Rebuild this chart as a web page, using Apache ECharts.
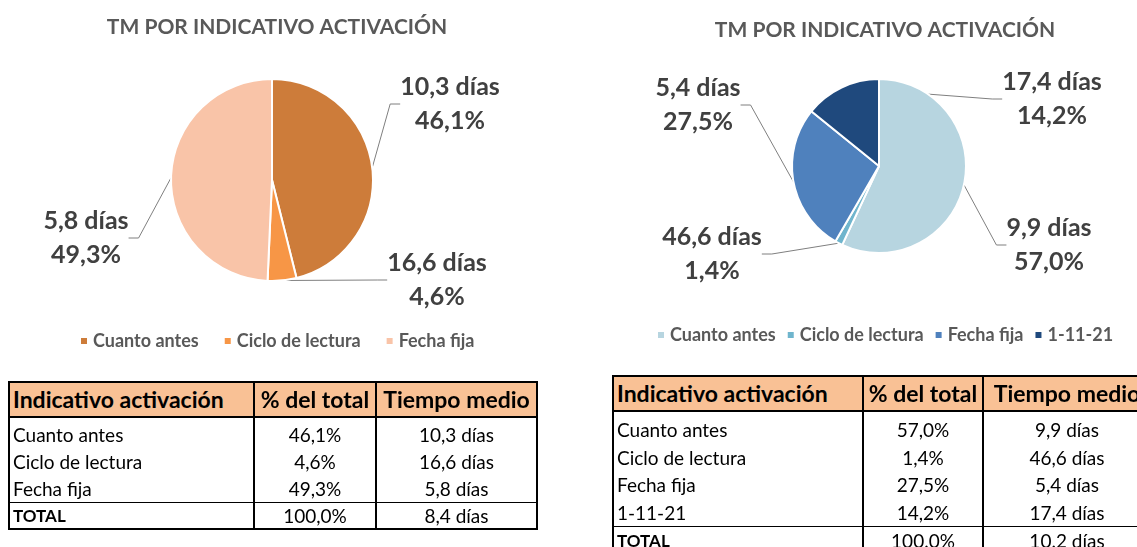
<!DOCTYPE html>
<html>
<head>
<meta charset="utf-8">
<script src="https://cdn.jsdelivr.net/npm/echarts@6/dist/echarts.min.js"></script>
<style>
  html, body { margin: 0; padding: 0; background: #fff; }
  #wrap { position: relative; width: 1137px; height: 547px; overflow: hidden; }
  #chart { position: absolute; left: 0; top: 0; width: 1137px; height: 547px; }
  table.tm { position: absolute; border-collapse: collapse; table-layout: fixed;
    font-family: Lato, "Open Sans", sans-serif; font-size: 19px; color: #000; }
  table.tm th { background: #F9C195; font-size: 23px; font-weight: bold; height: 33px; line-height: 33px;
    border: 2px solid #000; padding: 0 3px; white-space: nowrap; overflow: hidden; }
  table.tm th.first { text-align: left; }
  table.tm td { border-left: 2px solid #000; border-right: 2px solid #000; height: 27px; line-height: 26px;
    padding: 0 4px; vertical-align: bottom; text-align: center; white-space: nowrap; }
  table.tm td.first { text-align: left; padding-left: 3px; }
  table.tm tr.top td { height: 30px; }
  table.tm tr.total td { border-top: 1px solid #000; border-bottom: 2px solid #000; height: 25px; line-height: 25px; }
  table.tm tr.total td.first { font-weight: bold; font-size: 17px; }
  #tableB tr.top td { height: 31px; }
  #tableB td { height: 27.5px; }
  #tableB tr.total td { height: 28px; line-height: 28px; }
</style>
</head>
<body>
<div id="wrap">
  <div id="chart"></div>
  <table class="tm" id="tableA" style="left:8px; top:381px; width:530px;"></table>
  <table class="tm" id="tableB" style="left:612px; top:375px; width:540px;"></table>
</div>
<script>
// ---- data ----
var titleText = 'TM POR INDICATIVO ACTIVACIÓN';
var headers = ['Indicativo activación', '% del total', 'Tiempo medio'];

var categoriesA = ['Cuanto antes', 'Ciclo de lectura', 'Fecha fija'];
var shareA = [46.1, 4.6, 49.3];
var daysA = [10.3, 16.6, 5.8];
var totalA = ['100,0%', '8,4 días'];

var categoriesB = ['Cuanto antes', 'Ciclo de lectura', 'Fecha fija', '1-11-21'];
var shareB = [57.0, 1.4, 27.5, 14.2];
var daysB = [9.9, 46.6, 5.4, 17.4];
var totalB = ['100.0%', '10.2 días'];

var colorsA = ['#CD7C3A', '#F79646', '#F9C4A8'];
var colorsB = ['#B7D5E0', '#6FB5CD', '#4F81BD', '#1F497D'];

function fmt(v) {
	return v.toFixed(1).replace('.', ',');
}

// ---- tables ----
function buildTable(id, colW, cats, share, days, total) {
	var html = '<colgroup><col style="width:' + colW[0] + 'px"><col style="width:' + colW[1] + 'px"><col></colgroup>';
	html += '<tr><th class="first">' + headers[0] + '</th><th>' + headers[1] + '</th><th>' + headers[2] + '</th></tr>';
	for (var i = 0; i < cats.length; i++) {
		html += '<tr' + (i == 0 ? ' class="top"' : '') + '><td class="first">' + cats[i] + '</td><td>' +
			fmt(share[i]) + '%</td><td>' + fmt(days[i]) + ' días</td></tr>';
	}
	html += '<tr class="total"><td class="first">TOTAL</td><td>' + total[0] + '</td><td>' + total[1] + '</td></tr>';
	document.getElementById(id).innerHTML = html;
}
buildTable('tableA', [245, 122], categoriesA, shareA, daysA, totalA);
buildTable('tableB', [250, 120], categoriesB, shareB, daysB, totalB);

// ---- chart ----
function pieData(cats, share, days, colors) {
	return cats.map(function (c, i) {
		return { name: c, value: share[i], days: days[i], itemStyle: { color: colors[i] } };
	});
}
function legendData(cats, colors) {
	return cats.map(function (c, i) {
		return { name: c, itemStyle: { color: colors[i] } };
	});
}

// label centres (px) per slice
var labelPosA = [[450, 104], [437, 280], [86, 238]];
var labelPosB = [[1049, 245], [712, 254], [698, 105], [1052, 99]];

var labelStyle = {
	show: true,
	formatter: function (p) {
		return fmt(p.data.days) + ' días\n' + fmt(p.data.value) + '%';
	},
	fontFamily: 'Lato',
	fontWeight: 'bold',
	fontSize: 25,
	lineHeight: 34,
	color: '#404040',
	align: 'center'
};
var lineStyle = { show: true, length: 10, length2: 10, lineStyle: { color: '#7F7F7F', width: 1 } };
var titleStyle = { fontFamily: 'Lato', fontWeight: 'bold', fontSize: 21, color: '#595959' };
var legendText = { fontFamily: 'Lato', fontWeight: 'bold', fontSize: 18, color: '#595959' };

var chart = echarts.init(document.getElementById('chart'), null, { renderer: 'canvas' });
chart.setOption({
	animation: false,
	title: [
		{ text: titleText, left: 272, top: 12, textAlign: 'center', textStyle: titleStyle },
		{ text: titleText, left: 880, top: 15, textAlign: 'center', textStyle: titleStyle }
	],
	legend: [
		{ data: legendData(categoriesA, colorsA), left: 74, top: 327, icon: 'rect', itemWidth: 8, itemHeight: 8,
			itemGap: 24, selectedMode: false, textStyle: legendText },
		{ data: legendData(categoriesB, colorsB), left: 651, top: 321, icon: 'rect', itemWidth: 8, itemHeight: 8,
			itemGap: 10, selectedMode: false, textStyle: legendText }
	],
	series: [
		{
			type: 'pie', center: [272, 180], radius: 101, startAngle: 90, clockwise: true,
			itemStyle: { borderColor: '#fff', borderWidth: 2 },
			label: labelStyle, labelLine: lineStyle,
			labelLayout: function (p) {
				var pos = labelPosA[p.dataIndex];
				return { x: pos[0], y: pos[1], align: 'center', verticalAlign: 'middle' };
			},
			data: pieData(categoriesA, shareA, daysA, colorsA)
		},
		{
			type: 'pie', center: [879, 166], radius: 87, startAngle: 90, clockwise: true,
			itemStyle: { borderColor: '#fff', borderWidth: 2 },
			label: labelStyle, labelLine: lineStyle,
			labelLayout: function (p) {
				var pos = labelPosB[p.dataIndex];
				return { x: pos[0], y: pos[1], align: 'center', verticalAlign: 'middle' };
			},
			data: pieData(categoriesB, shareB, daysB, colorsB)
		}
	]
});
</script>
</body>
</html>
